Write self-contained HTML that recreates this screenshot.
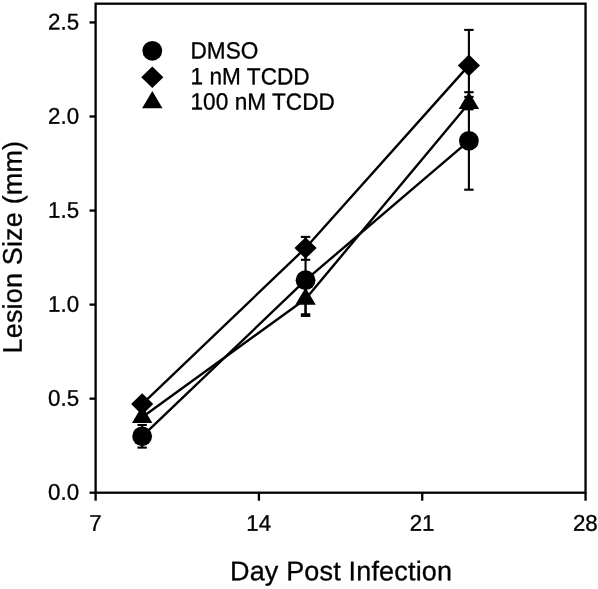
<!DOCTYPE html>
<html lang="en"><head><meta charset="utf-8"><title>Lesion Size vs Day Post Infection</title>
<style>html,body{margin:0;padding:0;background:#fff}svg{display:block;will-change:transform;transform:translateZ(0)}text{text-rendering:geometricPrecision;stroke:#000;stroke-width:0.3px;stroke-linejoin:round;font-family:"Liberation Sans",Arial,Helvetica,sans-serif;fill:#000}</style>
</head><body>
<svg width="598" height="589" viewBox="0 0 598 589">
<rect x="0" y="0" width="598" height="589" fill="#fff"/>
<rect x="95.62" y="3.7" width="489.93" height="489.00" fill="none" stroke="#000" stroke-width="2.3"/>
<g stroke="#000" stroke-width="2.3" stroke-linecap="butt">
<line x1="89.52" y1="492.70" x2="95.62" y2="492.70"/>
<line x1="89.52" y1="398.65" x2="95.62" y2="398.65"/>
<line x1="89.52" y1="304.60" x2="95.62" y2="304.60"/>
<line x1="89.52" y1="210.55" x2="95.62" y2="210.55"/>
<line x1="89.52" y1="116.50" x2="95.62" y2="116.50"/>
<line x1="89.52" y1="22.45" x2="95.62" y2="22.45"/>
<line x1="95.62" y1="492.70" x2="95.62" y2="500.70"/>
<line x1="258.93" y1="492.70" x2="258.93" y2="500.70"/>
<line x1="422.24" y1="492.70" x2="422.24" y2="500.70"/>
<line x1="585.55" y1="492.70" x2="585.55" y2="500.70"/>
</g>
<g font-size="22.3">
<text transform="translate(79.10 499.85) rotate(0.03) scale(1 1.018)" x="0" y="0" text-anchor="end">0.0</text>
<text transform="translate(79.10 405.80) rotate(0.03) scale(1 1.018)" x="0" y="0" text-anchor="end">0.5</text>
<text transform="translate(79.10 311.75) rotate(0.03) scale(1 1.018)" x="0" y="0" text-anchor="end">1.0</text>
<text transform="translate(79.10 217.70) rotate(0.03) scale(1 1.018)" x="0" y="0" text-anchor="end">1.5</text>
<text transform="translate(79.10 123.65) rotate(0.03) scale(1 1.018)" x="0" y="0" text-anchor="end">2.0</text>
<text transform="translate(79.10 29.60) rotate(0.03) scale(1 1.018)" x="0" y="0" text-anchor="end">2.5</text>
<text transform="translate(95.42 530.65) rotate(0.03) scale(1 1.018)" x="0" y="0" text-anchor="middle">7</text>
<text transform="translate(258.73 530.65) rotate(0.03) scale(1 1.018)" x="0" y="0" text-anchor="middle">14</text>
<text transform="translate(422.04 530.65) rotate(0.03) scale(1 1.018)" x="0" y="0" text-anchor="middle">21</text>
<text transform="translate(585.35 530.65) rotate(0.03) scale(1 1.018)" x="0" y="0" text-anchor="middle">28</text>
</g>
<text x="341.10" y="580.20" transform="rotate(0.03 341.10 580.20)" text-anchor="middle" font-size="27" letter-spacing="0.17">Day Post Infection</text>
<text transform="translate(21.75 247.1) rotate(-90.03)" font-size="27" letter-spacing="0.17" text-anchor="middle">Lesion Size (mm)</text>
<g stroke="#000" stroke-width="2.1" fill="none">
<line x1="142.15" y1="425.00" x2="142.15" y2="447.60"/><line x1="137.45" y1="425.00" x2="146.85" y2="425.00"/><line x1="137.45" y1="447.60" x2="146.85" y2="447.60"/>
<line x1="305.55" y1="236.90" x2="305.55" y2="259.80"/><line x1="300.85" y1="236.90" x2="310.25" y2="236.90"/><line x1="300.85" y1="259.80" x2="310.25" y2="259.80"/>
<line x1="305.55" y1="244.50" x2="305.55" y2="315.90"/><line x1="300.85" y1="315.90" x2="310.25" y2="315.90"/>
<line x1="305.55" y1="284.00" x2="305.55" y2="314.30"/><line x1="300.85" y1="314.30" x2="310.25" y2="314.30"/>
<line x1="468.90" y1="29.90" x2="468.90" y2="100.90"/><line x1="464.20" y1="29.90" x2="473.60" y2="29.90"/>
<line x1="468.90" y1="92.20" x2="468.90" y2="189.70"/><line x1="464.20" y1="92.20" x2="473.60" y2="92.20"/><line x1="464.20" y1="189.70" x2="473.60" y2="189.70"/>
<line x1="468.90" y1="96.90" x2="468.90" y2="109.30"/><line x1="464.20" y1="96.90" x2="473.60" y2="96.90"/><line x1="464.20" y1="109.30" x2="473.60" y2="109.30"/>
</g>
<g stroke="#000" stroke-width="2.4" fill="none" stroke-linejoin="round">
<polyline points="142.15,436.30 305.55,280.20 468.90,140.80"/>
<polyline points="142.15,404.10 305.55,247.95 468.90,65.40"/>
<polyline points="142.15,417.20 305.55,299.00 468.90,103.20"/>
</g>
<g fill="#000" stroke="none">
<circle cx="142.15" cy="436.30" r="9.9"/>
<circle cx="305.55" cy="280.20" r="9.9"/>
<circle cx="468.90" cy="140.80" r="9.9"/>
<polygon points="142.15,405.67 152.35,422.97 131.95,422.97"/>
<polygon points="305.55,287.47 315.75,304.77 295.35,304.77"/>
<polygon points="468.90,91.67 479.10,108.97 458.70,108.97"/>
<polygon points="142.15,393.30 153.25,404.10 142.15,414.90 131.05,404.10"/>
<polygon points="305.55,237.15 316.65,247.95 305.55,258.75 294.45,247.95"/>
<polygon points="468.90,54.60 480.00,65.40 468.90,76.20 457.80,65.40"/>
<circle cx="152.30" cy="50.80" r="9.9"/>
<polygon points="152.30,66.40 163.40,77.20 152.30,88.00 141.20,77.20"/>
<polygon points="152.30,90.97 162.50,108.27 142.10,108.27"/>
</g>
<g font-size="22.6" letter-spacing="0.04">
<text transform="translate(190.50 58.55) rotate(0.03) scale(1 1.04)" x="0" y="0">DMSO</text>
<text transform="translate(190.50 84.35) rotate(0.03) scale(1 1.04)" x="0" y="0">1 nM TCDD</text>
<text transform="translate(190.50 109.60) rotate(0.03) scale(1 1.04)" x="0" y="0">100 nM TCDD</text>
</g>
</svg>
</body></html>
